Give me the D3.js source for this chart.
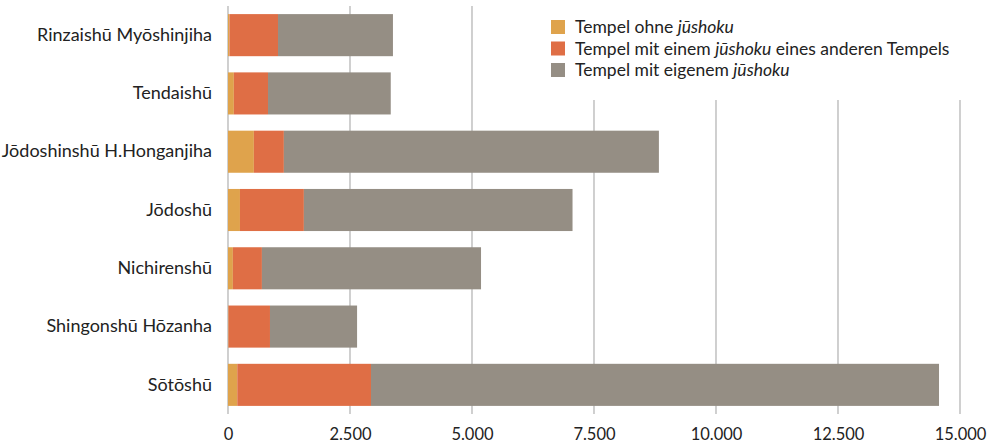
<!DOCTYPE html>
<html lang="de">
<head>
<meta charset="UTF-8">
<title>Tempel</title>
<style>
  body { margin: 0; background: #fff; }
  text { font-family: Lato, "Noto Sans", sans-serif; fill: #222; }
</style>
</head>
<body>
<svg width="990" height="445"></svg>
<script src="https://d3js.org/d3.v7.min.js"></script>
<script>
  // Daten
  var schulen = ["Rinzaishū Myōshinjiha", "Tendaishū", "Jōdoshinshū H.Honganjiha", "Jōdoshū", "Nichirenshū", "Shingonshū Hōzanha", "Sōtōshū"];
  var ohne    = [30, 120, 530, 245, 100, 10, 190];
  var fremd   = [995, 700, 615, 1310, 595, 850, 2740];
  var eigen   = [2355, 2515, 7685, 5505, 4490, 1785, 11640];
  var ticks   = [0, 2500, 5000, 7500, 10000, 12500, 15000];
  var reihen  = ["ohne", "fremd", "eigen"];
  var farben  = ["#dfa34c", "#df6e45", "#958e84"];

  var svg = d3.select("svg");
  var marge = {top: 6, right: 30, bottom: 31, left: 228};
  var width = 990 - marge.left - marge.right;
  var height = 445 - marge.top - marge.bottom;
  var g = svg.append("g").attr("transform", "translate(" + marge.left + "," + marge.top + ")");

  var daten = schulen.map(function(s, i) {
    return {schule: s, ohne: ohne[i], fremd: fremd[i], eigen: eigen[i]};
  });

  var x = d3.scaleLinear().domain([0, 15000]).range([0, 732]);
  var y = d3.scaleBand().domain(schulen).range([0, height]).paddingInner(0.278).paddingOuter(0.139);
  var color = d3.scaleOrdinal().domain(reihen).range(farben);

  // Gitterlinien
  g.append("g").selectAll("line").data(ticks).enter().append("line")
    .attr("x1", function(d) { return x(d); })
    .attr("x2", function(d) { return x(d); })
    .attr("y1", 0).attr("y2", height)
    .attr("stroke", "#c4c4c4").attr("stroke-width", 1.6);

  // Balken
  var stack = d3.stack().keys(reihen)(daten);
  g.append("g").selectAll("g").data(stack).enter().append("g")
    .attr("fill", function(d) { return color(d.key); })
    .selectAll("rect").data(function(d) { return d; }).enter().append("rect")
    .attr("x", function(d) { return x(d[0]); })
    .attr("width", function(d) { return x(d[1]) - x(d[0]); })
    .attr("y", function(d) { return y(d.data.schule); })
    .attr("height", y.bandwidth());

  // Achsen
  var xAchse = g.append("g").attr("transform", "translate(0," + height + ")")
    .call(d3.axisBottom(x).tickValues(ticks).tickSize(0).tickPadding(14)
      .tickFormat(function(d) { return d3.format(",")(d).replace(/,/g, "."); }));
  xAchse.select(".domain").remove();
  xAchse.selectAll("text").style("font-size", "16.5px").style("font-family", "Lato, sans-serif").attr("fill", "#222");

  var yAchse = g.append("g")
    .call(d3.axisLeft(y).tickSize(0).tickPadding(16));
  yAchse.select(".domain").remove();
  yAchse.selectAll("text").style("font-size", "18px").style("font-family", "Lato, sans-serif").attr("fill", "#222");

  // Legende
  var legende = svg.append("g").attr("transform", "translate(540,6)");
  legende.append("rect").attr("width", 450).attr("height", 94).attr("fill", "#fff");
  var texte = [
    ["Tempel ohne ", "jūshoku", ""],
    ["Tempel mit einem ", "jūshoku", " eines anderen Tempels"],
    ["Tempel mit eigenem ", "jūshoku", ""]
  ];
  var zeile = legende.selectAll("g.z").data(texte).enter().append("g")
    .attr("class", "z")
    .attr("transform", function(d, i) { return "translate(11," + (14 + i * 21.5) + ")"; });
  zeile.append("rect").attr("width", 14).attr("height", 14)
    .attr("fill", function(d, i) { return farben[i]; });
  var t = zeile.append("text").attr("x", 24).attr("y", 13).style("font-size", "17.5px");
  t.append("tspan").text(function(d) { return d[0]; });
  t.append("tspan").style("font-style", "italic").text(function(d) { return d[1]; });
  t.append("tspan").text(function(d) { return d[2]; });
</script>
</body>
</html>
